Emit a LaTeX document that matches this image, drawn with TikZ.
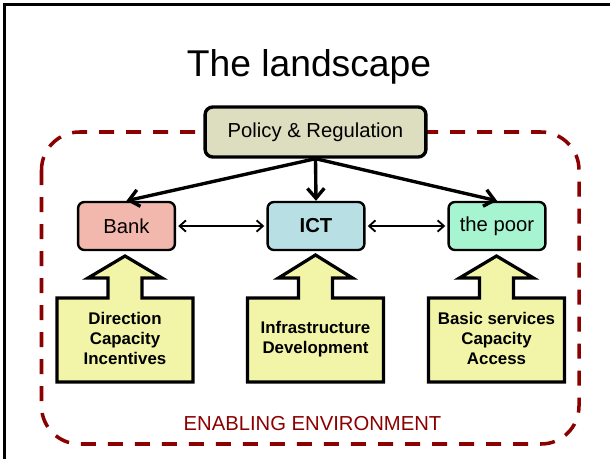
\documentclass[tikz,border=0pt]{standalone}
\usepackage{fontspec}
\setmainfont{Liberation Sans}
\usetikzlibrary{arrows.meta,calc}
\definecolor{PolicyClr}{RGB}{221,221,192}
\definecolor{BankClr}{RGB}{242,184,174}
\definecolor{IctClr}{RGB}{184,224,228}
\definecolor{PoorClr}{RGB}{166,244,208}
\definecolor{NeedClr}{RGB}{242,245,168}
\definecolor{EnvClr}{RGB}{139,0,0}

\tikzset{
  actor/.style={draw=black,line width=1.7pt,rounded corners=4.5pt,
    minimum width=2.42cm,minimum height=1.2cm,
    font=\fontsize{14.4}{17}\selectfont},
  needarrow/.style={draw=black,line width=2.3pt,fill=NeedClr,line join=miter},
  needtext/.style={align=center,font=\fontsize{12}{14.2}\selectfont\bfseries},
  policyarrow/.style={line width=2.4pt,-{Straight Barb[length=7pt,width=12pt]}},
  linkarrow/.style={line width=1.3pt,
    {Straight Barb[length=4.5pt,width=8pt]}-{Straight Barb[length=4.5pt,width=8pt]},
    shorten <=1.5pt,shorten >=1.5pt}
}

\begin{document}
\begin{tikzpicture}[x=0.025cm,y=-0.025cm]
\useasboundingbox (0,0) rectangle (610,459);

% slide frame
\draw[line width=1.8pt] (610,4.5) -- (4.5,4.5) -- (4.5,459);

\node[anchor=base,font=\fontsize{26.5}{30}\selectfont] (title) at (309,77) {The landscape};

% enabling environment
\draw[EnvClr,line width=2.5pt,dash pattern=on 0.375cm off 0.3cm,rounded corners=0.95cm]
  (41.5,132) rectangle (579,444);
\node[text=EnvClr,font=\fontsize{14.4}{17}\selectfont] (env) at (312.5,424) {ENABLING ENVIRONMENT};

% actors
\node[actor,fill=PolicyClr,line width=2.4pt,minimum width=5.52cm,minimum height=1.25cm,
  rounded corners=5.5pt] (policy) at (315.5,132) {Policy \& Regulation};
\node[actor,fill=BankClr] (bank) at (126.5,226) {Bank};
\node[actor,fill=IctClr,font=\fontsize{14.4}{17}\selectfont\bfseries] (ict) at (316,226) {ICT};
\node[actor,fill=PoorClr] (poor) at (497,226) {the poor};

\draw[policyarrow] (policy.south) -- (bank.north);
\draw[policyarrow] (policy.south) -- (ict.north);
\draw[policyarrow] (policy.south) -- (poor.north);

\draw[linkarrow] (bank) -- (ict);
\draw[linkarrow] (ict) -- (poor);

% needs pushing up into each actor
\draw[needarrow] (57,382) -- (57,298) -- (108,298) -- (108,278) -- (88,278) -- (125,256)
  -- (162,278) -- (142,278) -- (142,298) -- (193,298) -- (193,382) -- cycle;
\draw[needarrow] (247.5,382) -- (247.5,298) -- (298.5,298) -- (298.5,278) -- (278.5,278) -- (315.5,255)
  -- (352.5,278) -- (332.5,278) -- (332.5,298) -- (383.5,298) -- (383.5,382) -- cycle;
\draw[needarrow] (428.5,382) -- (428.5,298) -- (479.5,298) -- (479.5,278) -- (459.5,278) -- (496.5,256)
  -- (533.5,278) -- (513.5,278) -- (513.5,298) -- (564.5,298) -- (564.5,382) -- cycle;

\node[needtext] (bankneeds) at (125,338) {Direction\\Capacity\\Incentives};
\node[needtext] (ictneeds) at (315.5,339) {Infrastructure\\Development};
\node[needtext] (poorneeds) at (496.5,338) {Basic services\\Capacity\\Access};

\end{tikzpicture}
\end{document}
